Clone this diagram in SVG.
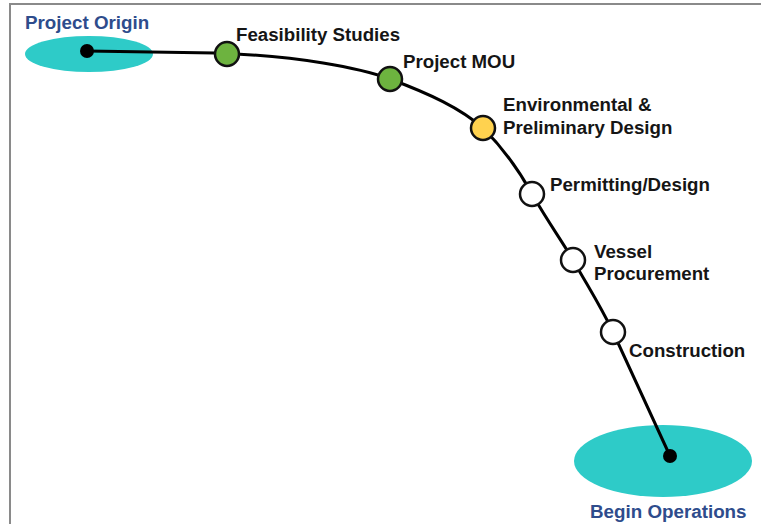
<svg xmlns="http://www.w3.org/2000/svg" width="761" height="524" viewBox="0 0 761 524">
<style>
.lbl{font-family:"Liberation Sans",Arial,sans-serif;font-weight:bold;font-size:18.7px;fill:#151515}
.end{font-family:"Liberation Sans",Arial,sans-serif;font-weight:bold;font-size:18.8px;fill:#2E4C8C}
.zone{fill:#2ECBC8}
.ms{stroke:#111;stroke-width:2.5}
.term{fill:#000}
</style>
<rect x="0" y="0" width="761" height="524" fill="#fff"/>
<rect x="10" y="4" width="800" height="600" fill="none" stroke="#8a8a8a" stroke-width="2"/>
<g id="origin">
<ellipse class="zone" cx="89" cy="54" rx="64" ry="18"/>
<circle class="term" cx="87" cy="51" r="7"/>
<text class="end" x="25" y="29">Project Origin</text>
</g>
<g id="operations">
<ellipse class="zone" cx="663" cy="461" rx="89" ry="36"/>
<circle class="term" cx="670" cy="456" r="7"/>
<text class="end" x="590" y="518">Begin Operations</text>
</g>
<g id="connectors">
<path d="M87,51 L215,53 C300,56 360,68 390,79 C430,94 460,108 483,128 C505,150 520,172 532,194 C550,225 560,238 573,260 C590,290 600,305 613,332 L670,456" fill="none" stroke="#000" stroke-width="3"/>
</g>
<g id="feasibility">
<circle class="ms" cx="227" cy="54" r="12" fill="#6DB33F"/>
<text class="lbl" x="236" y="41">Feasibility Studies</text>
</g>
<g id="mou">
<circle class="ms" cx="390" cy="79" r="12" fill="#6DB33F"/>
<text class="lbl" x="403" y="68">Project MOU</text>
</g>
<g id="environmental">
<circle class="ms" cx="483" cy="128" r="12" fill="#FFD24F"/>
<text class="lbl" x="503" y="111">Environmental &amp;</text>
<text class="lbl" x="503" y="134">Preliminary Design</text>
</g>
<g id="permitting">
<circle class="ms" cx="532" cy="194" r="12" fill="#fff"/>
<text class="lbl" x="550" y="191">Permitting/Design</text>
</g>
<g id="vessel">
<circle class="ms" cx="573" cy="260" r="12" fill="#fff"/>
<text class="lbl" x="594" y="258">Vessel</text>
<text class="lbl" x="594" y="280">Procurement</text>
</g>
<g id="construction">
<circle class="ms" cx="613" cy="332" r="12" fill="#fff"/>
<text class="lbl" x="629" y="357">Construction</text>
</g>
</svg>
